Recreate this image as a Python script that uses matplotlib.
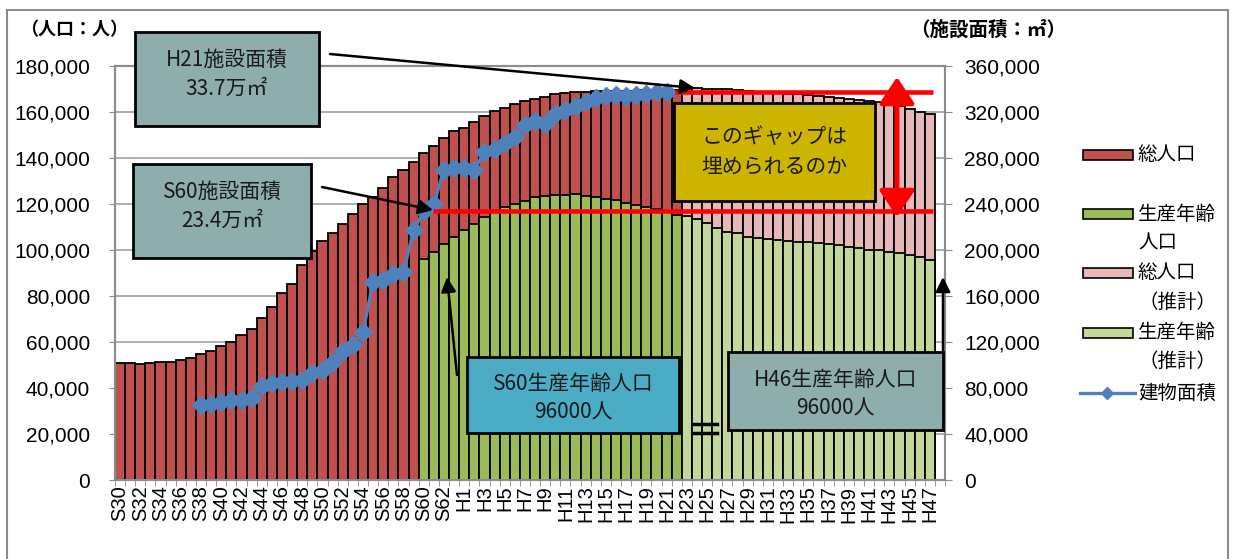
import numpy as np
import matplotlib.pyplot as plt
from matplotlib.patches import Rectangle, FancyArrowPatch
from matplotlib.lines import Line2D
from matplotlib.ticker import FuncFormatter

plt.rcParams['font.family'] = ['Liberation Sans', 'Noto Sans CJK JP']
JP = ['Noto Sans CJK JP', 'DejaVu Sans']

# 年度 (S30〜S63, H1〜H47)
labels = ['S%d' % i for i in range(30, 64)] + ['H%d' % i for i in range(1, 48)]

# 総人口 実績 S30〜H22
total_actual = [
    50700, 50700, 50400, 51000, 51200, 51400, 52200, 53200, 54800, 56200,
    58300, 60100, 62900, 65800, 70300, 75400, 81200, 85200, 93500, 99700,
    103900, 107500, 111200, 115700, 120000, 123200, 126800, 131600, 134800, 138400,
    142000, 145200, 148500, 151700, 153200, 155800, 158400, 160400, 161900, 163500,
    164900, 165800, 166700, 167700, 168400, 168600, 168800, 169000, 169100, 169200,
    169300, 169300, 169400, 169500, 169500, 169600,
]
# 生産年齢人口 実績 S60〜H22
prod_actual = [
    96100, 99300, 102600, 105800, 108700, 111200, 114200, 116700, 118800, 120000,
    121400, 122900, 123600, 123900, 123900, 124200, 123600, 123200, 122000, 121600,
    120600, 119600, 118800, 117700, 116700, 115200,
]
# 推計 H23〜H47
total_proj = [
    170500, 170400, 170200, 170000, 169800, 169500, 169200, 168900, 168600, 168300,
    168000, 167700, 167300, 166900, 166500, 166100, 165700, 165300, 164900, 164200,
    163400, 162400, 161300, 160200, 159000,
]
prod_proj = [
    114800, 113300, 111600, 109400, 108000, 107200, 105800, 105100, 104600, 104200,
    103900, 103600, 103300, 102900, 102500, 102000, 101400, 100700, 100200, 99800,
    99300, 98800, 97800, 96900, 95700,
]
# 建物面積 S38〜H21 (㎡)
area = [
    65000, 66000, 68000, 69500, 70000, 71500, 82000, 84000, 85000, 86500,
    87000, 93000, 95500, 103000, 112000, 117000, 129000, 172000, 174000, 179000,
    181000, 217000, 234000, 240000, 270000, 271000, 271000, 270000, 285000, 288000,
    293000, 298000, 309000, 312000, 310000, 318000, 322000, 325000, 329000, 332000,
    334000, 335000, 334000, 335000, 336000, 337000, 337000,
]

area_h21 = 337000
area_s60 = 234000

n = len(labels)
i_s60 = labels.index('S60')
i_h23 = labels.index('H23')
i_s38 = labels.index('S38')

x_act = np.arange(len(total_actual))
x_prod = np.arange(i_s60, i_s60 + len(prod_actual))
x_proj = np.arange(i_h23, i_h23 + len(total_proj))
x_area = np.arange(i_s38, i_s38 + len(area))

W, H = 1234, 559
fig = plt.figure(figsize=(W / 100, H / 100), dpi=100)


def px(x, y):
    return (x / W, 1 - y / H)


ax = fig.add_axes([115 / W, 1 - 480 / H, (945 - 115) / W, (480 - 66) / H])
ax2 = ax.twinx()

edge = dict(edgecolor='black', linewidth=1.3, width=1.0)
ax.bar(x_act, total_actual, color='#C0504D', zorder=2, **edge)
ax.bar(x_prod, prod_actual, color='#9BBB59', zorder=3, **edge)
ax.bar(x_proj, total_proj, color='#E6B9B8', zorder=2, **edge)
ax.bar(x_proj, prod_proj, color='#C4D79B', zorder=3, **edge)

ax.set_xlim(-0.5, n + 0.5)
ax.set_ylim(0, 180000)
ax2.set_ylim(0, 360000)
ax.set_axisbelow(True)
ax.yaxis.grid(True, color='#A0A0A0', lw=1.2)

fmt = FuncFormatter(lambda v, p: '{:,}'.format(int(v)))
ax.set_yticks(range(0, 180001, 20000))
ax.yaxis.set_major_formatter(fmt)
ax2.set_yticks(range(0, 360001, 40000))
ax2.yaxis.set_major_formatter(fmt)

ax.set_xticks(np.arange(0, n, 2))
ax.set_xticklabels(labels[::2], rotation=90, fontsize=14.5)
ax.set_xticks(np.arange(-0.5, n + 0.6, 1), minor=True)
ax.tick_params(axis='x', which='major', length=0, pad=4)
ax.tick_params(axis='x', which='minor', length=4, color='#8C8C8C')
ax.tick_params(axis='y', labelsize=15, length=4, color='#8C8C8C', pad=14)
ax2.tick_params(axis='y', labelsize=15, length=5, color='#8C8C8C', pad=9)

for a in (ax, ax2):
    for s in a.spines.values():
        s.set_color('#8C8C8C')
        s.set_linewidth(1.5)

ax2.plot(x_area, area, color='#4F81BD', lw=2.4, marker='D', ms=9.5, zorder=5)

# 施設面積のギャップ (赤線)
ax2.hlines(area_h21, 54.8, 80.3, color='red', lw=3.3, zorder=6)
ax2.hlines(area_s60, 30.9, 80.3, color='red', lw=3.3, zorder=6)

# annotation boxes
def box(x0, y0, x1, y1, fc, txt, cy, size=15, ls=1.4):
    fig.add_artist(Rectangle(px(x0, y1), (x1 - x0) / W, (y1 - y0) / H,
                             transform=fig.transFigure, fc=fc, ec='black',
                             lw=2, zorder=10))
    fig.text(*px((x0 + x1) / 2, cy), txt, ha='center', va='center',
             fontsize=size, family=JP, color='#1A1A1A', linespacing=ls, zorder=11)


def arrow(p0, p1, color='black', lw=1.8, ms=22, style='-|>'):
    fig.add_artist(FancyArrowPatch(px(*p0), px(*p1), transform=fig.transFigure,
                                   arrowstyle=style, mutation_scale=ms, color=color,
                                   lw=lw, shrinkA=0, shrinkB=0, zorder=12))


arrow((330, 54), (695, 88))
arrow((322, 187), (433, 210))
box(135, 32, 319, 126, '#8EADAD', 'H21施設面積\n33.7万㎡', 74)
box(133, 164, 311, 258, '#8EADAD', 'S60施設面積\n23.4万㎡', 206)
box(674, 103, 875, 201, '#CCB400', 'このギャップは\n埋められるのか', 152)
arrow((457, 375), (447, 277))
box(467, 357, 679, 433, '#4BACC6', 'S60生産年齢人口\n96000人', 398)
arrow((943, 352), (943, 277))
box(728, 352, 943, 430, '#8EADAD', 'H46生産年齢人口\n96000人', 394)

# ＝
for yy in (424, 433):
    fig.add_artist(Line2D([694 / W, 717 / W], [1 - yy / H, 1 - yy / H],
                          transform=fig.transFigure, color='black', lw=2.5, zorder=12))

# red double arrow
fig.add_artist(FancyArrowPatch(px(897, 77), px(897, 217), transform=fig.transFigure,
                               arrowstyle='<|-|>,head_length=0.45,head_width=0.3',
                               mutation_scale=36, color='red', lw=3.5,
                               shrinkA=0, shrinkB=0, zorder=12))

# axis titles
fig.text(*px(74, 30), '（人口：人）', ha='center', va='center', fontsize=13,
         family=JP, fontweight='bold')
fig.text(*px(988, 30), '（施設面積：㎡）', ha='center', va='center', fontsize=14,
         family=JP, fontweight='bold')

# legend
leg = [
    ('#C0504D', ['総人口'], 155, [155]),
    ('#9BBB59', ['生産年齢', '人口'], 214, [214, 243]),
    ('#E6B9B8', ['総人口', '（推計）'], 273, [273, 302]),
    ('#C4D79B', ['生産年齢', '（推計）'], 333, [333, 361]),
]
for col, lines, py, tys in leg:
    fig.add_artist(Rectangle(px(1083, py + 5), 50 / W, 10 / H, transform=fig.transFigure,
                             fc=col, ec='black', lw=1.2))
    for t, ty in zip(lines, tys):
        fig.text(*px(1138, ty), t, ha='left', va='center', fontsize=14, family=JP)
fig.add_artist(Line2D([1080 / W, 1135 / W], [1 - 393 / H] * 2, transform=fig.transFigure,
                      color='#4F81BD', lw=2.4))
fig.add_artist(Line2D([1107 / W], [1 - 393 / H], transform=fig.transFigure,
                      color='#4F81BD', marker='D', ms=6))
fig.text(*px(1138, 393), '建物面積', ha='left', va='center', fontsize=14, family=JP)

# outer frame
fig.add_artist(Rectangle(px(7, 575), (1228 - 7) / W, (575 - 10) / H,
                         transform=fig.transFigure, fill=False, ec='#8C8C8C', lw=1.5))

fig.savefig('out.png', dpi=100)
